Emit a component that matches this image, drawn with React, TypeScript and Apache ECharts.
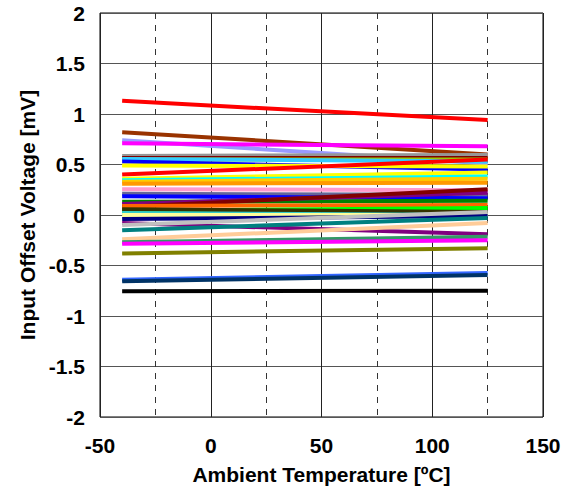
import React, { useEffect, useRef } from "react";
import * as echarts from "echarts";

const temps = [-40, 125];
const colors = [
  "#ff0000", "#993300", "#9999ff", "#ff00ff", "#969696", "#800000", "#99cc00", "#33ccff",
  "#0000ff", "#ffff00", "#ff0000", "#ffff00", "#00ffff", "#ffcc00", "#ff9900", "#ff99cc",
  "#666699", "#0000ff", "#008000", "#800080", "#800000", "#ff6600", "#00ff00", "#333300",
  "#33cccc", "#ffff99", "#000080", "#800080", "#c0c0c0", "#008080", "#ffcc99", "#339966",
  "#ff00ff", "#808000", "#3366ff", "#003366", "#000000",
];
const startValues = [
  1.13, 0.82, 0.74, 0.71, 0.585, 0.565, 0.55, 0.555,
  0.53, 0.49, 0.40, 0.36, 0.345, 0.33, 0.31, 0.255,
  0.21, 0.185, 0.13, 0.11, 0.08, 0.09, 0.04, 0.057,
  0.02, 0.0, -0.04, -0.08, -0.10, -0.15, -0.24, -0.27,
  -0.285, -0.38, -0.64, -0.655, -0.755,
];
const endValues = [
  0.94, 0.6, 0.51, 0.68, 0.595, 0.565, 0.55, 0.53,
  0.45, 0.48, 0.55, 0.42, 0.38, 0.36, 0.32, 0.245,
  0.2, 0.165, 0.14, 0.22, 0.255, 0.1, 0.07, 0.03,
  0.0, 0.0, -0.01, -0.19, 0.03, -0.03, -0.08, -0.215,
  -0.25, -0.33, -0.575, -0.595, -0.75,
];
const xTicks = [-50, 0, 50, 100, 150];
const yTicks = [-2, -1.5, -1, -0.5, 0, 0.5, 1, 1.5, 2];

const FONT = "'Liberation Sans', Arial, sans-serif";

export default function App() {
  const ref = useRef<HTMLDivElement>(null);
  useEffect(() => {
    if (!ref.current) return;
    const chart = echarts.init(ref.current, undefined, { renderer: "svg" });
    const series = colors.map((c, i) => ({
      type: "line",
      data: [
        [temps[0], startValues[i]],
        [temps[1], endValues[i]],
      ],
      showSymbol: false,
      lineStyle: { color: c, width: 4 },
      silent: true,
    }));
    chart.setOption({
      animation: false,
      grid: {
        left: 100,
        right: 25,
        top: 13,
        bottom: 65,
        show: true,
        borderColor: "#000",
        borderWidth: 1,
      },
      xAxis: {
        type: "value",
        min: xTicks[0],
        max: xTicks[xTicks.length - 1],
        interval: 50,
        name: "Ambient Temperature [ºC]",
        nameLocation: "middle",
        nameGap: 47,
        nameTextStyle: { fontFamily: FONT, fontWeight: "bold", fontSize: 21, color: "#000" },
        axisLine: { show: false },
        axisTick: { show: false },
        axisLabel: { fontFamily: FONT, fontWeight: "bold", fontSize: 21, color: "#000", margin: 18 },
        splitLine: { show: true, lineStyle: { color: "#222", width: 1 } },
        minorTick: { show: false, splitNumber: 2 },
        minorSplitLine: { show: true, lineStyle: { color: "#333", width: 1, type: [6, 6] } },
      },
      yAxis: {
        type: "value",
        min: yTicks[0],
        max: yTicks[yTicks.length - 1],
        interval: 0.5,
        name: "Input Offset Voltage [mV]",
        nameLocation: "middle",
        nameGap: 58,
        nameTextStyle: { fontFamily: FONT, fontWeight: "bold", fontSize: 21, color: "#000" },
        axisLine: { show: false },
        axisTick: { show: false },
        axisLabel: { fontFamily: FONT, fontWeight: "bold", fontSize: 21, color: "#000", margin: 15 },
        splitLine: { show: true, lineStyle: { color: "#555", width: 1 } },
      },
      series,
    });
    return () => chart.dispose();
  }, []);
  return (
    <div
      ref={ref}
      style={{ position: "fixed", left: 0, top: 0, width: 568, height: 490, background: "#fff" }}
    />
  );
}
